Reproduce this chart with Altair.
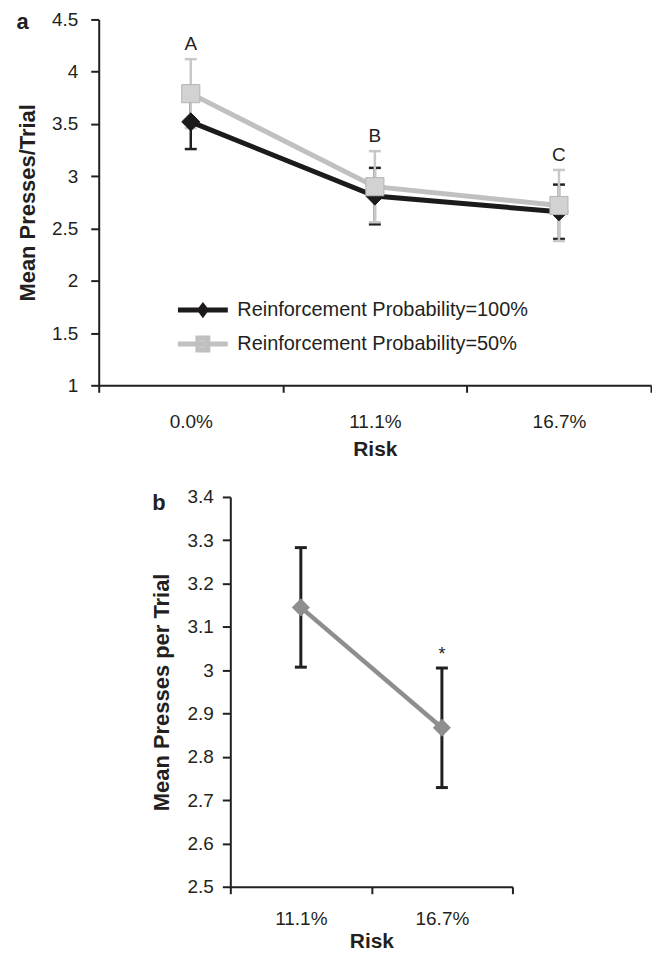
import altair as alt
import pandas as pd

# ---------------- data ----------------
risk_a = ["0.0%", "11.1%", "16.7%"]
series_names = ["Reinforcement Probability=100%", "Reinforcement Probability=50%"]
mean_100 = [3.52, 2.81, 2.66]
sem_100 = [0.26, 0.27, 0.26]
mean_50 = [3.79, 2.90, 2.72]
sem_50 = [0.33, 0.34, 0.34]
letters_a = ["A", "B", "C"]
yticks_a = [1, 1.5, 2, 2.5, 3, 3.5, 4, 4.5]

risk_b = ["11.1%", "16.7%"]
mean_b = [3.145, 2.867]
sem_b = [0.138, 0.138]
marks_b = ["", "*"]
yticks_b = [2.5, 2.6, 2.7, 2.8, 2.9, 3.0, 3.1, 3.2, 3.3, 3.4]

# ---------------- style ----------------
FONT = "Liberation Sans"
INK = "#231f20"
BLACK = "#1c1a1b"
GRAY_LINE = "#c0c0c0"
GRAY_FILL = "#d2d2d2"
GRAY_EDGE = "#b4b4b4"
GRAY_ERR = "#c8c8c8"
B_GRAY = "#8e8e8e"

series_style = {
    series_names[0]: dict(line=BLACK, fill=BLACK, edge=BLACK, err=INK, shape="diamond", size=330),
    series_names[1]: dict(line=GRAY_LINE, fill=GRAY_FILL, edge=GRAY_EDGE, err=GRAY_ERR, shape="square", size=330),
}
legend_paths = [
    "M-2.5,0L2.5,0M0,-0.4L0.3,0L0,0.4L-0.3,0Z",
    "M-2.5,0L2.5,0M-0.5,-0.6L0.5,-0.6L0.5,0.6L-0.5,0.6Z",
]

rows = []
for name, means, sems in [(series_names[0], mean_100, sem_100), (series_names[1], mean_50, sem_50)]:
    for r, m, s in zip(risk_a, means, sems):
        rows.append({"risk": r, "series": name, "mean": m, "lo": m - s, "hi": m + s})
df_a = pd.DataFrame(rows)
df_letters = pd.DataFrame({"risk": risk_a, "letter": letters_a,
                           "top": [m + s for m, s in zip(mean_50, sem_50)]})
df_b = pd.DataFrame({"risk": risk_b, "mean": mean_b,
                     "lo": [m - s for m, s in zip(mean_b, sem_b)],
                     "hi": [m + s for m, s in zip(mean_b, sem_b)],
                     "mark": marks_b})


def x_enc(domain, label_pad, title_pad, rng=None):
    sc = dict(type="band", domain=domain, paddingInner=0, paddingOuter=0)
    if rng is not None:
        sc["range"] = rng
    return alt.X("risk:N", scale=alt.Scale(**sc),
                 axis=alt.Axis(title="Risk", tickBand="extent", labelAngle=0, tickSize=7,
                               labelPadding=label_pad, titlePadding=title_pad))


def y_enc(field, domain, ticks, title, label_pad, title_pad):
    return alt.Y(f"{field}:Q",
                 scale=alt.Scale(domain=domain, nice=False, zero=False),
                 axis=alt.Axis(values=ticks, format=".1~f", title=title, tickSize=8,
                               labelPadding=label_pad, titlePadding=title_pad,
                               titleFontSize=22))


# ---------------- panel a ----------------
XA = lambda: x_enc(risk_a, 20, 7.5)
YA = lambda f: y_enc(f, [1, 4.5], yticks_a, "Mean Presses/Trial", 13, 12)

base_a = alt.Chart(df_a)
err_layers, line_layers, mark_layers = [], [], []
for name in series_names:
    st = series_style[name]
    sub = base_a.transform_filter(alt.datum.series == name)
    err_layers.append(sub.mark_rule(color=st["err"], strokeWidth=2.5).encode(
        x=XA(), y=YA("lo"), y2="hi:Q"))
    for f in ["lo", "hi"]:
        err_layers.append(sub.mark_tick(color=st["err"], size=12, thickness=2.5, opacity=1).encode(
            x=XA(), y=YA(f)))
    line_layers.append(sub.mark_line(color=st["line"], strokeWidth=5).encode(
        x=XA(), y=YA("mean")))
    mark_layers.append(sub.mark_point(shape=st["shape"], size=st["size"], filled=True,
                                      fill=st["fill"], stroke=st["edge"], strokeWidth=1,
                                      opacity=1).encode(x=XA(), y=YA("mean")))

leg = dict(title=None, orient="none", legendX=92, legendY=279, symbolSize=400,
           symbolStrokeWidth=5, symbolOpacity=1, labelFont=FONT, labelFontSize=20,
           labelColor=INK, rowPadding=3, labelOffset=22, labelLimit=500)
legend_layer = base_a.mark_point(filled=True, opacity=0).encode(
    x=XA(), y=YA("mean"),
    fill=alt.Fill("series:N", scale=alt.Scale(domain=series_names, range=[BLACK, GRAY_FILL]),
                  legend=alt.Legend(**leg)),
    stroke=alt.Stroke("series:N", scale=alt.Scale(domain=series_names, range=[BLACK, GRAY_LINE]),
                      legend=alt.Legend(**leg)),
    shape=alt.Shape("series:N", scale=alt.Scale(domain=series_names, range=legend_paths),
                    legend=alt.Legend(**leg)),
)

letters_layer = alt.Chart(df_letters).mark_text(
    font=FONT, fontSize=19, color=INK, baseline="alphabetic", dy=-9).encode(
    x=XA(), y=YA("top"), text="letter:N")

panel_a = alt.layer(*err_layers, *line_layers, *mark_layers, legend_layer, letters_layer).properties(
    width=554, height=367,
    title=alt.TitleParams("a", anchor="start", frame="bounds", font=FONT, fontSize=22,
                          fontWeight="bold", color=INK, baseline="alphabetic", offset=-25,
                          dy=16, dx=0))

# ---------------- panel b ----------------
XB = lambda: x_enc(risk_b, 16, 2, rng=[0, 283])
YB = lambda f: y_enc(f, [2.5, 3.4], yticks_b, "Mean Presses per Trial", 9, 14)

base_b = alt.Chart(df_b)
b_layers = [
    base_b.mark_rule(color=INK, strokeWidth=3).encode(x=XB(), y=YB("lo"), y2="hi:Q"),
    base_b.mark_tick(color=INK, size=12, thickness=3, opacity=1).encode(x=XB(), y=YB("lo")),
    base_b.mark_tick(color=INK, size=12, thickness=3, opacity=1).encode(x=XB(), y=YB("hi")),
    base_b.mark_line(color=B_GRAY, strokeWidth=4.5).encode(x=XB(), y=YB("mean")),
    base_b.mark_point(shape="diamond", size=330, filled=True, color=B_GRAY, opacity=1).encode(
        x=XB(), y=YB("mean")),
    base_b.mark_text(font=FONT, fontSize=18, color=INK, baseline="alphabetic", dy=-8).encode(
        x=XB(), y=YB("hi"), text="mark:N"),
]
panel_b = alt.layer(*b_layers).properties(
    width=290, height=391,
    title=alt.TitleParams("b", anchor="start", frame="bounds", font=FONT, fontSize=22,
                          fontWeight="bold", color=INK, baseline="alphabetic", offset=-25,
                          dy=19, dx=2))

chart = alt.vconcat(panel_a, panel_b, spacing=112, center=True, bounds="flush").properties(
    padding={"left": 8, "top": 1, "right": 0, "bottom": 0},
    background="white",
).configure_view(stroke=None).configure_axis(
    domainColor=INK, domainWidth=2, tickColor=INK, tickWidth=2, grid=False,
    labelFont=FONT, labelFontSize=19, labelColor=INK,
    titleFont=FONT, titleFontSize=21, titleFontWeight="bold", titleColor=INK,
)

chart.save("out.html", embed_options={"renderer": "svg", "actions": False})
